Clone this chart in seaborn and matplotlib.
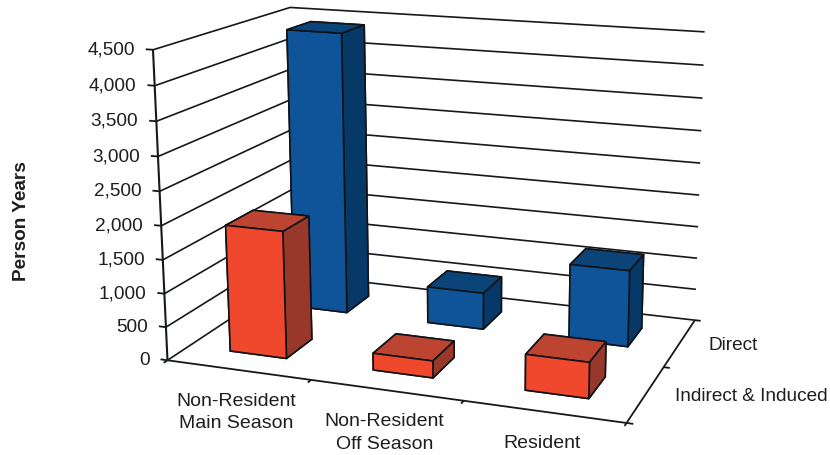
import numpy as np
import matplotlib
matplotlib.use("Agg")
import matplotlib.pyplot as plt
from mpl_toolkits.mplot3d import proj3d
import seaborn as sns

sns.set_theme(style="white")
plt.rcParams["font.family"] = ["Liberation Sans", "DejaVu Sans"]

# Employment by visitor segment and effect type
categories = ["Non-Resident\nMain Season", "Non-Resident\nOff Season", "Resident"]
series = ["Indirect & Induced", "Direct"]
indirect_induced = [1900, 250, 520]
direct = [4400, 570, 1170]
z_ticks = [0, 500, 1000, 1500, 2000, 2500, 3000, 3500, 4000, 4500]

text_color = "#1c1f1c"
line_color = "#15181c"
# bottom, top, front, back, left, right faces of a column
red_faces = ["#8f3020", "#bc4430", "#f0482c", "#f0482c", "#98382a", "#98382a"]
blue_faces = ["#063a70", "#0a4478", "#0f5498", "#0f5498", "#063868", "#063868"]

W, H = 830, 455
fig = plt.figure(figsize=(W / 100, H / 100), dpi=100, facecolor="white")
# Axes3D insists on a square box, so use one as wide as the figure, centred vertically
ax = fig.add_axes([0, -(W - H) / 2 / H, 1, W / H], projection="3d", computed_zorder=False)
ax.set_axis_off()
ax.patch.set_alpha(0)
ax.set_proj_type("ortho")
ax.apply_aspect()

# Excel-style oblique view: the camera is fixed by where the plot box corners fall on the canvas
box_corners = np.array([
    [0, 0, 0], [0, 0, 4500], [3, 0, 0], [0, 2, 0],
    [0, 2, 4500], [3, 2, 0], [3, 2, 4500],
], dtype=float)
canvas_corners = np.array([
    [167, 361], [154, 49], [626, 423], [298, 274],
    [289, 8], [695, 320], [705, 32],
], dtype=float)


def fit_view(world, canvas):
    rows, rhs = [], []
    for (x, y, z), (u, v) in zip(world, canvas):
        rows.append([x, y, z, 1, 0, 0, 0, 0, -u * x, -u * y, -u * z])
        rhs.append(u)
        rows.append([0, 0, 0, 0, x, y, z, 1, -v * x, -v * y, -v * z])
        rhs.append(v)
    p = np.linalg.lstsq(np.array(rows), np.array(rhs), rcond=None)[0]
    return np.append(p, 1.0).reshape(3, 4)


P = fit_view(box_corners, canvas_corners)
to_data = ax.transData.inverted()
x0, y0 = to_data.transform((0, H))
x1, y1 = to_data.transform((1, H - 1))
sx, sy = x1 - x0, y1 - y0
depth = 0.2 * np.array([-0.5, 1.0, -0.5 / 4500, 0.0])
M = np.vstack([
    sx * P[0] + x0 * P[2],
    sy * P[1] + y0 * P[2],
    depth,
    P[2],
])
ax.get_proj = lambda: M
ax.M = M


def project(x, y, z):
    u, v, _ = proj3d.proj_transform(x, y, z, M)
    return u, v


def label(text, x, y, z, dx, dy, size=13.7, **kwargs):
    ax.annotate(text, xy=project(x, y, z), xytext=(dx, dy), textcoords="offset pixels",
                color=text_color, fontsize=size, **kwargs)


def seg(xs, ys, zs, lw=1.3, color=line_color):
    ax.plot(xs, ys, zs, color=color, lw=lw, solid_capstyle="butt", zorder=1)


# Walls: gridlines run along the side wall, then the back wall
for z in z_ticks:
    seg([0, 0, 3], [0, 2, 2], [z, z, z], lw=1.2)
    seg([-0.05, 0], [0, 0], [z, z])
    label(f"{z:,}", 0, 0, z, -18, 0, ha="right", va="center")

# Floor outline and axis lines
seg([0, 0], [0, 0], [0, 4500], lw=1.5)
seg([0, 3], [0, 0], [0, 0])
seg([3, 3], [0, 2], [0, 0])
for x in range(4):
    seg([x, x], [0, -0.05], [0, 0])
for y in range(3):
    seg([3, 3.04], [y, y], [0, 0])

for i, name in enumerate(categories):
    label(name, i + 0.5, 0, 0, -1.5, -23, size=14, ha="center", va="top",
          linespacing=1.42, multialignment="center")
for j, name in enumerate(series):
    label(name, 3, j + 0.5, 0, 29, -3, ha="left", va="center")

# Columns, back row first so the front row hides it
bar_w, bar_d = 0.4, 0.4
for j, values, faces in [(1, direct, blue_faces), (0, indirect_induced, red_faces)]:
    for i, value in enumerate(values):
        poly = ax.bar3d(i + 0.495 - bar_w / 2, j + 0.5 - bar_d / 2, 0, bar_w, bar_d, value,
                        color=faces, edgecolor="#101418", linewidth=1.2, shade=False)
        poly.set_zorder(5 - j)

fig.text(22 / W, 1 - 221 / H, "Person Years", rotation=90, ha="center", va="center",
         fontsize=13.7, fontweight="bold", color=text_color)

fig.savefig("out.png", dpi=100)
